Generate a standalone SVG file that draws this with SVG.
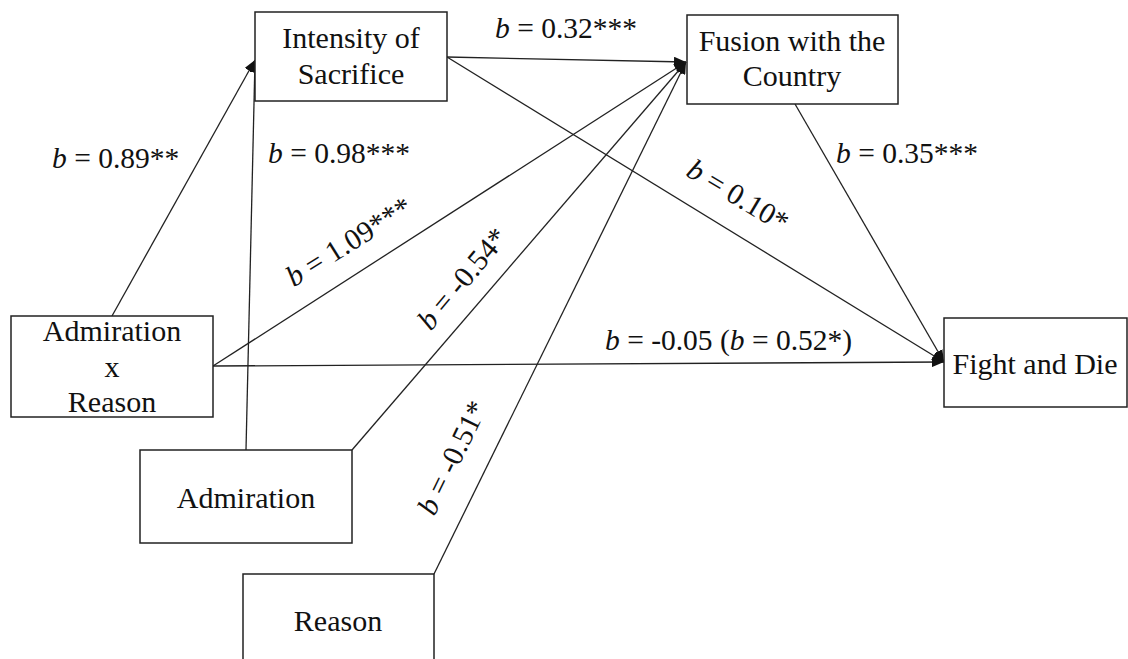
<svg xmlns="http://www.w3.org/2000/svg" width="1128" height="659" viewBox="0 0 1128 659">
<style>
.box{fill:#fff;stroke:#222;stroke-width:1.5}
.t{font-family:"Liberation Serif","Times New Roman",serif;font-size:30px;fill:#111;text-anchor:middle}
.l{font-family:"Liberation Serif","Times New Roman",serif;font-size:29.5px;fill:#111}
.c{stroke:#222;stroke-width:1.3;fill:none}
.a{marker-end:url(#ah)}
</style>
<defs>
<marker id="ah" viewBox="0 0 12 10" refX="12" refY="5" markerWidth="12" markerHeight="10" markerUnits="userSpaceOnUse" orient="auto">
<path d="M0,0 L12,5 L0,10 Z" fill="#111"/>
</marker>
</defs>
<rect width="1128" height="659" fill="#fff"/>
<g id="connectors">
<line class="c a" x1="112" y1="316" x2="255" y2="60"/>
<line class="c a" x1="246" y1="450" x2="255" y2="60"/>
<line class="c a" x1="447" y1="57" x2="686" y2="62"/>
<line class="c a" x1="447" y1="57" x2="944" y2="362"/>
<line class="c a" x1="213" y1="366" x2="686" y2="62"/>
<line class="c a" x1="213" y1="366" x2="944" y2="362"/>
<line class="c a" x1="352" y1="450" x2="686" y2="62"/>
<line class="c a" x1="434" y1="574" x2="686" y2="62"/>
<line class="c a" x1="795" y1="104" x2="944" y2="362"/>
</g>
<g id="labels">
<text class="l" x="52" y="168"><tspan font-style="italic">b</tspan> = 0.89**</text>
<text class="l" x="268" y="163"><tspan font-style="italic">b</tspan> = 0.98***</text>
<text class="l" x="495" y="38"><tspan font-style="italic">b</tspan> = 0.32***</text>
<text class="l" x="836" y="163"><tspan font-style="italic">b</tspan> = 0.35***</text>
<text class="l" x="605" y="350"><tspan font-style="italic">b</tspan> = -0.05 (<tspan font-style="italic">b</tspan> = 0.52*)</text>
<text class="l" text-anchor="middle" transform="translate(733,204) rotate(31)"><tspan font-style="italic">b</tspan> = 0.10*</text>
<text class="l" text-anchor="middle" transform="translate(354,250) rotate(-32)"><tspan font-style="italic">b</tspan> = 1.09***</text>
<text class="l" text-anchor="middle" transform="translate(470,285) rotate(-50)"><tspan font-style="italic">b</tspan> = -0.54*</text>
<text class="l" text-anchor="middle" transform="translate(461,462) rotate(-64)"><tspan font-style="italic">b</tspan> = -0.51*</text>
</g>
<g id="intensity">
<rect class="box" x="255" y="12" width="192" height="89"/>
<text class="t" x="351" y="48">Intensity of</text>
<text class="t" x="351" y="84">Sacrifice</text>
</g>
<g id="fusion">
<rect class="box" x="687" y="15" width="211" height="89"/>
<text class="t" x="792" y="51">Fusion with the</text>
<text class="t" x="792" y="86">Country</text>
</g>
<g id="admxreason">
<rect class="box" x="11" y="316" width="202" height="101"/>
<text class="t" x="112" y="341">Admiration</text>
<text class="t" x="112" y="377">x</text>
<text class="t" x="112" y="412">Reason</text>
</g>
<g id="admiration">
<rect class="box" x="140" y="450" width="212" height="93"/>
<text class="t" x="246" y="508">Admiration</text>
</g>
<g id="reason">
<rect class="box" x="243" y="574" width="191" height="100"/>
<text class="t" x="338" y="631">Reason</text>
</g>
<g id="fight">
<rect class="box" x="944" y="318" width="183" height="89"/>
<text class="t" x="1035" y="374">Fight and Die</text>
</g>
</svg>
